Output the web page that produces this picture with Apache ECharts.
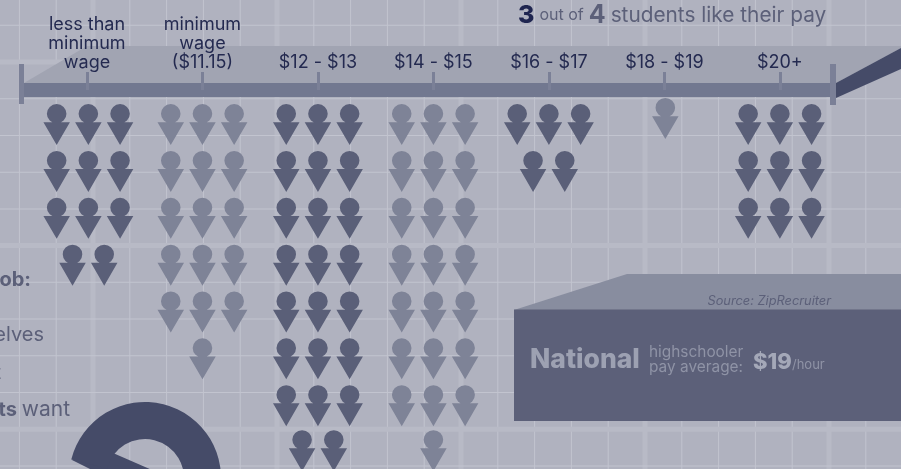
<!DOCTYPE html>
<html>
<head>
<meta charset="utf-8">
<style>
  html, body { margin: 0; padding: 0; background: #b0b2bf; overflow: hidden; }
  #main { width: 901px; height: 469px; }
</style>
<script src="https://cdn.jsdelivr.net/npm/echarts@6/dist/echarts.min.js"></script>
</head>
<body>
<div id="main"></div>
<script>
var payRanges = ['less than\nminimum\nwage', 'minimum\nwage\n($11.15)', '$12 - $13', '$14 - $15', '$16 - $17', '$18 - $19', '$20+'];
var iconCounts = [11, 16, 23, 22, 5, 1, 9];
var tickValues = [0, 1, 2, 3, 4, 5, 6];
var ringShares = [75, 25];

var FONT = 'Inter';
var PERSON = 'path://M3.4 9.6A9.6 9.6 0 1 1 22.6 9.6A9.6 9.6 0 1 1 3.4 9.6ZM0 18L26 18L13 40.7Z';
var SLOT = 0.2745;      // space between icons, in axis units
var PER_ROW = 3;

function buildIcons() {
    var out = [];
    iconCounts.forEach(function (n, col) {
        for (var i = 0; i < n; i++) {
            var row = Math.floor(i / PER_ROW);
            var inRow = Math.min(PER_ROW, n - row * PER_ROW);
            var slot = i % PER_ROW - (inRow - 1) / 2;
            var y = row;
            if (n === 1) y -= 0.13;      // the lone icon sits a bit higher
            if (row === 7) y -= 0.04;
            out.push([col + slot * SLOT + (col === 0 ? 0.012 : 0) + (n === 1 ? 0.008 : 0), y, col]);
        }
    });
    return out;
}

// paper grid behind everything
function paperLines() {
    var els = [];
    var k, major, p;
    for (k = -2; k < 22; k++) {
        p = 93 + 36.8 * k;
        major = (k % 5 === 0);
        els.push({ type: 'rect', z: -20, silent: true,
            shape: { x: p - (major ? 2.5 : 0.5), y: 0, width: major ? 5 : 1, height: 469 },
            style: { fill: major ? '#b8bac6' : '#c2c4cf' } });
    }
    for (k = -1; k < 12; k++) {
        p = 62 + 36.72 * k;
        major = (k % 5 === 0);
        els.push({ type: 'rect', z: -20, silent: true,
            shape: { x: 0, y: p - (major ? 2.5 : 0.5), width: 901, height: major ? 5 : 1 },
            style: { fill: major ? '#b8bac6' : '#c2c4cf' } });
    }
    return els;
}

function label(text, x, y, size, color, weight, align, style) {
    return { type: 'text', z: 5, silent: true, x: x, y: y,
        style: { text: text, fill: color, textAlign: align || 'left', textVerticalAlign: 'middle',
            font: (style || 'normal') + ' ' + (weight || 400) + ' ' + size + 'px ' + FONT } };
}

var decor = paperLines().concat([
    // back plane of the axis
    { type: 'polygon', z: -10, silent: true, shape: { points: [[24, 83], [87, 46], [901, 46], [901, 48], [836, 83]] },
      style: { fill: '#a1a4b2' } },
    { type: 'polygon', z: -5, silent: true, shape: { points: [[836, 83], [901, 48], [901, 69], [836, 98]] },
      style: { fill: '#454b68' } },
    { type: 'rect', z: 4, silent: true, shape: { x: 19, y: 64, width: 5, height: 40 }, style: { fill: '#7b8097' } },
    { type: 'rect', z: 4, silent: true, shape: { x: 830, y: 64, width: 6, height: 41 }, style: { fill: '#7b8097' } },
    // national box
    { type: 'polygon', z: -5, silent: true, shape: { points: [[514, 310], [627, 274], [901, 274], [901, 310]] },
      style: { fill: '#888d9f' } },
    { type: 'rect', z: -5, silent: true, shape: { x: 514, y: 309.5, width: 387, height: 111.5 }, style: { fill: '#5c6079' } },
    // band under the ring
    { type: 'polygon', z: 1, silent: true, shape: { points: [[72, 460], [113, 453], [152, 470], [92, 470]] },
      style: { fill: '#454b68' } },
    label('Source: ZipRecruiter', 831, 301, 12.8, '#5c6079', 400, 'right', 'italic'),
    label('National', 530, 360, 26.5, '#9da1b2', 800),
    label('highschooler', 649, 352, 15.4, '#8f93a6', 400),
    label('pay average:', 649, 367, 15.4, '#8f93a6', 400),
    label('$19', 753, 362, 22, '#a4a8b8', 800),
    label('/hour', 792, 365, 13, '#8f93a6', 400),
    label('job:', 31, 280, 20, '#5c6079', 700, 'right'),
    label('themselves', 44, 335, 20, '#5c6079', 400, 'right'),
    label('t', 1, 373, 20, '#5c6079', 400, 'right'),
    label('want', 70, 410, 21, '#5c6079', 400, 'right'),
    label('students', 17, 410, 20, '#5c6079', 700, 'right')
]);

var chart = echarts.init(document.getElementById('main'));
chart.setOption({
    animation: false,
    backgroundColor: '#b0b2bf',
    title: {
        left: 518, top: 3, padding: 0,
        text: '{a|3} {b|out of} {c|4} {d|students like their pay}',
        textStyle: {
            fontWeight: 400,
            rich: {
                a: { fontFamily: FONT, fontSize: 25, fontWeight: 800, color: '#1f2550' },
                b: { fontFamily: FONT, fontSize: 16, fontWeight: 400, color: '#5c6079' },
                c: { fontFamily: FONT, fontSize: 25, fontWeight: 700, color: '#5c6079' },
                d: { fontFamily: FONT, fontSize: 20.8, fontWeight: 400, color: '#5c6079' }
            }
        }
    },
    grid: { left: 20, right: 68, top: 90, height: 374.8 },
    xAxis: {
        type: 'value', position: 'top',
        min: -0.58, max: 6.46,
        splitLine: { show: false },
        axisLine: { show: true, onZero: false, lineStyle: { color: '#727890', width: 14, cap: 'butt' } },
        axisTick: { show: true, customValues: tickValues, length: 18, lineStyle: { color: '#7b8097', width: 3 } },
        axisLabel: {
            customValues: tickValues, margin: 18, color: '#242a50',
            fontFamily: FONT, fontSize: 18, lineHeight: 19,
            formatter: function (v) { return payRanges[v]; }
        }
    },
    yAxis: { type: 'value', inverse: true, show: false, min: -0.7385, max: 7.2615 },
    graphic: decor,
    series: [{
        type: 'scatter',
        clip: false,
        silent: true,
        symbol: PERSON,
        symbolSize: [26.5, 41],
        data: buildIcons(),
        itemStyle: {
            opacity: 1,
            color: function (p) { return p.value[2] % 2 ? '#7e8397' : '#5a5f78'; }
        }
    }, {
        type: 'pie',
        silent: true,
        center: [145, 478],
        radius: [39, 76],
        startAngle: 166,
        label: { show: false },
        labelLine: { show: false },
        data: [
            { value: ringShares[0], itemStyle: { color: '#454b68' } },
            { value: ringShares[1], itemStyle: { color: 'transparent' } }
        ]
    }]
});
</script>
</body>
</html>
